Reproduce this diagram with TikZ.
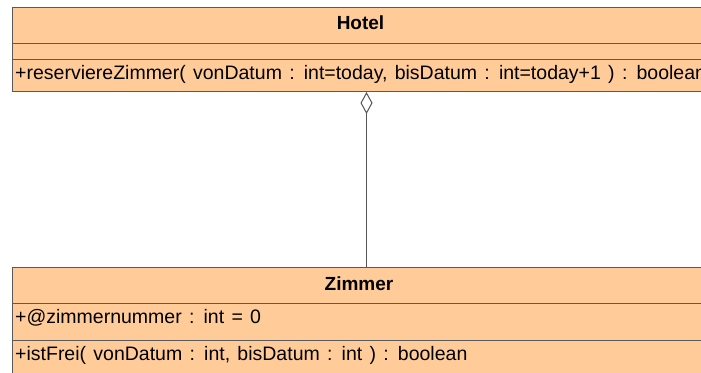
\documentclass[tikz,border=0pt]{standalone}
\usepackage{fontspec}
\setmainfont{Liberation Sans}
\newfontfamily\memberfont[WordSpace=1.35]{Liberation Sans}
\usetikzlibrary{arrows.meta}
\definecolor{classfill}{RGB}{255,204,153}
\definecolor{classline}{RGB}{90,90,90}
\definecolor{linkline}{RGB}{85,85,85}
\tikzset{
  classbox/.style={draw=classline, fill=classfill, line width=1pt, rectangle,
    anchor=north west, inner sep=0pt, minimum width=696pt},
  sectionline/.style={draw=classline, line width=1pt},
  classname/.style={font=\fontsize{19pt}{22pt}\selectfont\bfseries, anchor=base, inner sep=0pt},
  member/.style={font=\memberfont\fontsize{19.5pt}{22pt}\selectfont, anchor=base west, inner sep=0pt},
  aggregation/.style={draw=linkline, line width=1pt,
    {Diamond[open, length=22pt, width=12pt, line width=1pt]}-}
}
\begin{document}
\begin{tikzpicture}[x=1pt,y=1pt]
  \useasboundingbox (0,0) rectangle (701,-372);
  \clip (0,0) rectangle (701,-372);
  \fill[white] (0,0) rectangle (701,-372);

  % class Hotel
  \node[classbox, minimum height=84pt] (hotel) at (12,-7) {};
  \draw[sectionline] (12,-43) -- (708,-43);
  \draw[sectionline] (12,-59) -- (708,-59);
  \node[classname] (hotelname) at (360.5,-29) {Hotel};
  \node[member] (hotelop) at (15,-79) {+reserviereZimmer( vonDatum : int=today, bisDatum : int=today+1 ) : boolean};

  % class Zimmer
  \node[classbox, minimum height=120pt] (zimmer) at (12,-267) {};
  \draw[sectionline] (12,-303) -- (708,-303);
  \draw[sectionline] (12,-340) -- (708,-340);
  \node[classname] (zimmername) at (359,-290) {Zimmer};
  \node[member] (zimmerattr) at (15,-323) {+@zimmernummer : int = 0};
  \node[member] (zimmerop) at (15,-360) {+istFrei( vonDatum : int, bisDatum : int ) : boolean};

  % aggregation Hotel <>-- Zimmer
  \draw[aggregation] ([xshift=6pt]hotel.south) -- ([xshift=6pt]zimmer.north);
\end{tikzpicture}
\end{document}
